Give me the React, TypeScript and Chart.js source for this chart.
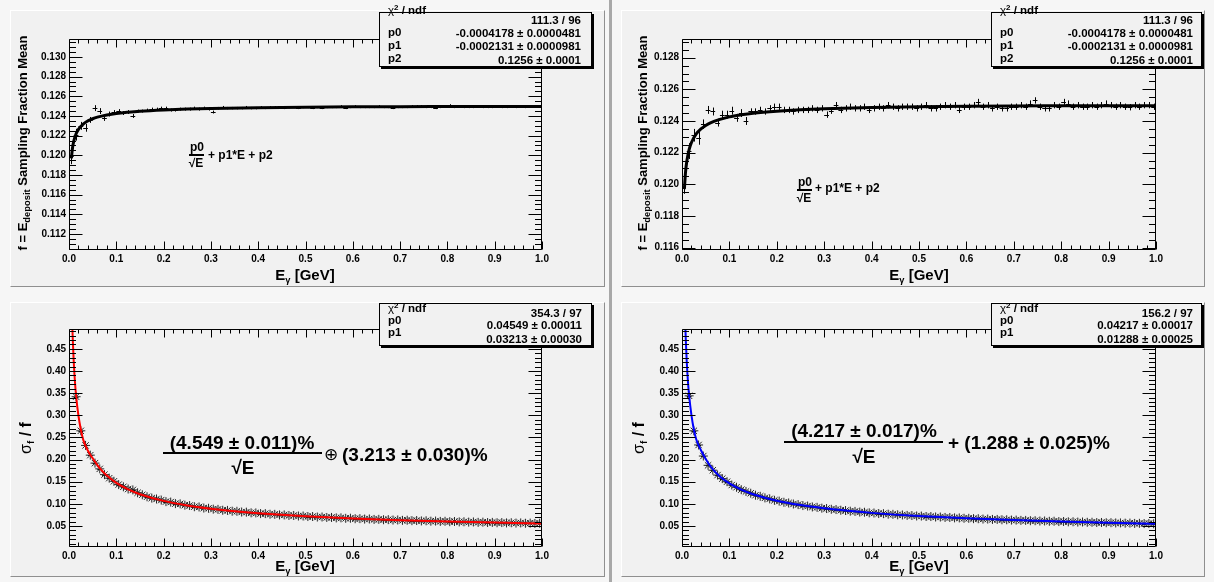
import React, { useEffect, useRef } from "react";
import { Chart, registerables } from "chart.js";

Chart.register(...registerables);

// ---------------- data ----------------
const X_TICKS = [0, 0.1, 0.2, 0.3, 0.4, 0.5, 0.6, 0.7, 0.8, 0.9, 1.0];
const Y_TICKS_TL = [0.112, 0.114, 0.116, 0.118, 0.12, 0.122, 0.124, 0.126, 0.128, 0.13];
const Y_TICKS_TR = [0.116, 0.118, 0.12, 0.122, 0.124, 0.126, 0.128];
const Y_TICKS_RES = [0.05, 0.1, 0.15, 0.2, 0.25, 0.3, 0.35, 0.4, 0.45];

const E_BINS = [
  0.005, 0.015, 0.025, 0.035, 0.045, 0.055, 0.065, 0.075, 0.085, 0.095,
  0.105, 0.115, 0.125, 0.135, 0.145, 0.155, 0.165, 0.175, 0.185, 0.195,
  0.205, 0.215, 0.225, 0.235, 0.245, 0.255, 0.265, 0.275, 0.285, 0.295,
  0.305, 0.315, 0.325, 0.335, 0.345, 0.355, 0.365, 0.375, 0.385, 0.395,
  0.405, 0.415, 0.425, 0.435, 0.445, 0.455, 0.465, 0.475, 0.485, 0.495,
  0.505, 0.515, 0.525, 0.535, 0.545, 0.555, 0.565, 0.575, 0.585, 0.595,
  0.605, 0.615, 0.625, 0.635, 0.645, 0.655, 0.665, 0.675, 0.685, 0.695,
  0.705, 0.715, 0.725, 0.735, 0.745, 0.755, 0.765, 0.775, 0.785, 0.795,
  0.805, 0.815, 0.825, 0.835, 0.845, 0.855, 0.865, 0.875, 0.885, 0.895,
  0.905, 0.915, 0.925, 0.935, 0.945, 0.955, 0.965, 0.975, 0.985, 0.995,
];
const E_RES_BINS = E_BINS.slice(1);

const TL_MEAN = [
  0.1199, 0.1221, 0.1230, 0.1228, 0.1236, 0.1248, 0.1245, 0.1238, 0.1242, 0.1244,
  0.1245, 0.1243, 0.1244, 0.1240, 0.1245, 0.1245, 0.1246, 0.1247, 0.1247, 0.1248,
  0.1248, 0.1246, 0.1246, 0.1247, 0.1247, 0.1247, 0.1248, 0.1247, 0.1248, 0.1247,
  0.1244, 0.1248, 0.1249, 0.1248, 0.1248, 0.1248, 0.1248, 0.1249, 0.1248, 0.1248,
  0.1249, 0.1248, 0.1249, 0.1249, 0.1249, 0.1248, 0.1249, 0.1249, 0.1248, 0.1249,
  0.1249, 0.1248, 0.1249, 0.1248, 0.1249, 0.1249, 0.1249, 0.1250, 0.1248, 0.1249,
  0.1250, 0.1249, 0.1249, 0.1249, 0.1249, 0.1250, 0.1249, 0.1249, 0.1248, 0.1249,
  0.1249, 0.1249, 0.1250, 0.1250, 0.1250, 0.1249, 0.1249, 0.1248, 0.1249, 0.1250,
  0.1251, 0.1249, 0.1250, 0.1249, 0.1249, 0.1249, 0.1250, 0.1249, 0.1249, 0.1249,
  0.1250, 0.1249, 0.1249, 0.1250, 0.1249, 0.1250, 0.1249, 0.1250, 0.1250, 0.1250,
];
const TL_ERR = [
  0.0008, 0.0006, 0.0004, 0.0004, 0.0003, 0.0003, 0.0003, 0.0003, 0.00025, 0.0002,
  0.0002, 0.0002, 0.0002, 0.0002, 0.00015, 0.00015, 0.00015, 0.00015, 0.00015, 0.00015,
  0.00015, 0.00015, 0.00015, 0.00015, 0.00015, 0.00015, 0.00015, 0.00015, 0.00015, 0.00015,
  0.00015, 0.00012, 0.00012, 0.00012, 0.00012, 0.00012, 0.00012, 0.00012, 0.00012, 0.00012,
  0.0001, 0.0001, 0.0001, 0.0001, 0.0001, 0.0001, 0.0001, 0.0001, 0.0001, 0.0001,
  0.0001, 0.0001, 0.0001, 0.0001, 0.0001, 0.0001, 0.0001, 0.0001, 0.0001, 0.0001,
  0.0001, 0.0001, 0.0001, 0.0001, 0.0001, 0.0001, 0.0001, 0.0001, 0.0001, 0.0001,
  0.0001, 0.0001, 0.0001, 0.0001, 0.0001, 0.0001, 0.0001, 0.0001, 0.0001, 0.0001,
  0.0001, 0.0001, 0.0001, 0.0001, 0.0001, 0.0001, 0.0001, 0.0001, 0.0001, 0.0001,
  0.0001, 0.0001, 0.0001, 0.0001, 0.0001, 0.0001, 0.0001, 0.0001, 0.0001, 0.0001,
];

const TR_MEAN = [
  0.1200, 0.1221, 0.1231, 0.1229, 0.1238, 0.1247, 0.1246, 0.1239, 0.1244, 0.1244,
  0.12465, 0.1242, 0.1245, 0.1240, 0.1246, 0.1246, 0.1247, 0.1246, 0.1248, 0.1249,
  0.1249, 0.1247, 0.1247, 0.1246, 0.1247, 0.1247, 0.1247, 0.1248, 0.1247, 0.1248,
  0.1244, 0.12465, 0.1250, 0.1247, 0.1248, 0.1249, 0.1248, 0.1248, 0.1249, 0.1247,
  0.1248, 0.1249, 0.1248, 0.1250, 0.1249, 0.1248, 0.1249, 0.1249, 0.1249, 0.1248,
  0.1249, 0.1250, 0.1248, 0.1248, 0.1249, 0.1250, 0.1249, 0.1250, 0.1247, 0.1249,
  0.1249, 0.1250, 0.1252, 0.1249, 0.1250, 0.1248, 0.1249, 0.1248, 0.1248, 0.1249,
  0.1249, 0.1250, 0.1249, 0.1251, 0.1253, 0.1249, 0.1248, 0.1248, 0.1250, 0.1249,
  0.1252, 0.1251, 0.1249, 0.1250, 0.1249, 0.1249, 0.1250, 0.1249, 0.1250, 0.1251,
  0.1250, 0.1249, 0.1250, 0.1249, 0.12487, 0.1250, 0.1249, 0.1250, 0.1250, 0.1249,
];
const TR_ERR = [
  0.0006, 0.0005, 0.0004, 0.0004, 0.0003, 0.00025, 0.00025, 0.00025, 0.00025, 0.00025,
  0.00025, 0.00025, 0.00025, 0.00025, 0.0002, 0.0002, 0.0002, 0.0002, 0.0002, 0.0002,
  0.0002, 0.0002, 0.0002, 0.0002, 0.0002, 0.0002, 0.0002, 0.0002, 0.0002, 0.0002,
  0.0002, 0.0002, 0.0002, 0.0002, 0.0002, 0.0002, 0.0002, 0.0002, 0.0002, 0.0002,
  0.0002, 0.0002, 0.0002, 0.0002, 0.0002, 0.0002, 0.0002, 0.0002, 0.0002, 0.0002,
  0.0002, 0.0002, 0.0002, 0.0002, 0.0002, 0.0002, 0.0002, 0.0002, 0.0002, 0.0002,
  0.0002, 0.0002, 0.0002, 0.0002, 0.0002, 0.0002, 0.0002, 0.0002, 0.0002, 0.0002,
  0.0002, 0.0002, 0.0002, 0.0002, 0.0002, 0.0002, 0.0002, 0.0002, 0.0002, 0.0002,
  0.0002, 0.0002, 0.0002, 0.0002, 0.0002, 0.0002, 0.0002, 0.0002, 0.0002, 0.0002,
  0.0002, 0.0002, 0.0002, 0.0002, 0.0002, 0.0002, 0.0002, 0.0002, 0.0002, 0.0002,
];

const BL_RES = [
  0.342, 0.265, 0.232, 0.210, 0.192, 0.179, 0.166, 0.158, 0.151,
  0.1435, 0.1385, 0.1335, 0.1315, 0.1250, 0.1205, 0.1160, 0.1130, 0.1110, 0.1085,
  0.1050, 0.1040, 0.1005, 0.1000, 0.0970, 0.0962, 0.0935, 0.0930, 0.0905, 0.0900,
  0.0880, 0.0875, 0.0855, 0.0852, 0.0834, 0.0832, 0.0815, 0.0812, 0.0797, 0.0795,
  0.0780, 0.0779, 0.0765, 0.0763, 0.0750, 0.0750, 0.0737, 0.0737, 0.0725, 0.0725,
  0.0713, 0.0714, 0.0702, 0.0703, 0.0692, 0.0693, 0.0682, 0.0684, 0.0673, 0.0675,
  0.0664, 0.0666, 0.0656, 0.0658, 0.0648, 0.0650, 0.0641, 0.0643, 0.0634, 0.0636,
  0.0627, 0.0630, 0.0620, 0.0623, 0.0614, 0.0617, 0.0608, 0.0611, 0.0603, 0.0606,
  0.0597, 0.0601, 0.0592, 0.0595, 0.0587, 0.0591, 0.0582, 0.0586, 0.0578, 0.0581,
  0.0573, 0.0577, 0.0569, 0.0573, 0.0565, 0.0569, 0.0561, 0.0565, 0.0557, 0.0561,
];
const BR_RES = [
  0.344, 0.265, 0.233, 0.208, 0.187, 0.176, 0.165, 0.157, 0.150,
  0.1425, 0.1375, 0.1320, 0.1280, 0.1240, 0.1195, 0.1170, 0.1135, 0.1112, 0.1080,
  0.1062, 0.1035, 0.1020, 0.0996, 0.0983, 0.0961, 0.0950, 0.0930, 0.0921, 0.0902,
  0.0894, 0.0877, 0.0871, 0.0855, 0.0849, 0.0834, 0.0829, 0.0815, 0.0810, 0.0797,
  0.0793, 0.0781, 0.0778, 0.0766, 0.0763, 0.0752, 0.0749, 0.0739, 0.0736, 0.0726,
  0.0724, 0.0714, 0.0713, 0.0703, 0.0702, 0.0693, 0.0692, 0.0683, 0.0682, 0.0674,
  0.0673, 0.0665, 0.0664, 0.0656, 0.0656, 0.0648, 0.0648, 0.0640, 0.0640, 0.0633,
  0.0633, 0.0626, 0.0626, 0.0619, 0.0619, 0.0612, 0.0613, 0.0606, 0.0607, 0.0600,
  0.0601, 0.0594, 0.0595, 0.0588, 0.0590, 0.0583, 0.0584, 0.0578, 0.0579, 0.0573,
  0.0574, 0.0568, 0.0569, 0.0563, 0.0565, 0.0558, 0.0560, 0.0554, 0.0556, 0.0550,
];
const RES_ERR = [
  0.006, 0.004, 0.003, 0.003, 0.0025, 0.002, 0.002, 0.002, 0.0015,
  0.0015, 0.0015, 0.0015, 0.0015, 0.0015, 0.0015, 0.0015, 0.0015, 0.0015, 0.0015,
  0.001, 0.001, 0.001, 0.001, 0.001, 0.001, 0.001, 0.001, 0.001, 0.001,
  0.001, 0.001, 0.001, 0.001, 0.001, 0.001, 0.001, 0.001, 0.001, 0.001,
  0.001, 0.001, 0.001, 0.001, 0.001, 0.001, 0.001, 0.001, 0.001, 0.001,
  0.001, 0.001, 0.001, 0.001, 0.001, 0.001, 0.001, 0.001, 0.001, 0.001,
  0.001, 0.001, 0.001, 0.001, 0.001, 0.001, 0.001, 0.001, 0.001, 0.001,
  0.001, 0.001, 0.001, 0.001, 0.001, 0.001, 0.001, 0.001, 0.001, 0.001,
  0.001, 0.001, 0.001, 0.001, 0.001, 0.001, 0.001, 0.001, 0.001, 0.001,
  0.001, 0.001, 0.001, 0.001, 0.001, 0.001, 0.001, 0.001, 0.001, 0.001,
];

// fit curves
const FIT_MEAN_E = [0.005, 0.0075, 0.01, 0.015, 0.02, 0.03, 0.04, 0.05, 0.06, 0.08, 0.1, 0.125, 0.15, 0.2, 0.25, 0.3, 0.4, 0.5, 0.6, 0.7, 0.8, 0.9, 1.0];
const FIT_MEAN_V = [0.11969, 0.12078, 0.12142, 0.12219, 0.12264, 0.12318, 0.1235, 0.12372, 0.12388, 0.1241, 0.12426, 0.12439, 0.12449, 0.12462, 0.12471, 0.12477, 0.12485, 0.1249, 0.12493, 0.12495, 0.12496, 0.12497, 0.12497];
const FIT_RES_E = [0.007, 0.008, 0.01, 0.0125, 0.015, 0.02, 0.025, 0.03, 0.04, 0.05, 0.06, 0.07, 0.08, 0.1, 0.125, 0.15, 0.2, 0.25, 0.3, 0.35, 0.4, 0.5, 0.6, 0.7, 0.8, 0.9, 1.0];
const FIT_BL_V = [0.503, 0.471, 0.421, 0.377, 0.344, 0.299, 0.268, 0.245, 0.22, 0.203, 0.1875, 0.1745, 0.164, 0.1474, 0.1326, 0.1218, 0.1067, 0.0965, 0.0891, 0.0833, 0.0788, 0.0719, 0.0669, 0.0632, 0.0602, 0.0577, 0.0557];
const FIT_BR_V = [0.503, 0.471, 0.421, 0.377, 0.345, 0.3, 0.268, 0.246, 0.221, 0.2015, 0.185, 0.1723, 0.162, 0.1462, 0.1322, 0.1218, 0.1072, 0.0972, 0.0899, 0.0842, 0.0796, 0.0725, 0.0673, 0.0633, 0.06, 0.0573, 0.0551];

const STATS_MEAN = [
  ["p0", "-0.0004178 ± 0.0000481"],
  ["p1", "-0.0002131 ± 0.0000981"],
  ["p2", "0.1256 ± 0.0001"],
];
const CHI_MEAN = "111.3 / 96";
const STATS_BL = [
  ["p0", "0.04549 ± 0.00011"],
  ["p1", "0.03213 ± 0.00030"],
];
const CHI_BL = "354.3 / 97";
const STATS_BR = [
  ["p0", "0.04217 ± 0.00017"],
  ["p1", "0.01288 ± 0.00025"],
];
const CHI_BR = "156.2 / 97";

// ---------------- rendering ----------------
const FONT = '"Liberation Sans", Arial, Helvetica, sans-serif';
const PAD_BG = "#f1f1f1";

type Pt = { x: number; y: number };
const zip = (xs: number[], ys: number[]): Pt[] => ys.map((y, i) => ({ x: xs[i], y }));

const rootFrame = {
  id: "rootFrame",
  afterDatasetsDraw(chart: any, _args: any, o: any) {
    const { ctx, chartArea: a } = chart;
    const xs = chart.scales.x;
    const ys = chart.scales.y;
    const L = Math.round(a.left) + 0.5;
    const R = Math.round(a.right) - 0.5;
    const T = Math.round(a.top) + 0.5;
    const B = Math.round(a.bottom) - 0.5;
    ctx.save();
    ctx.strokeStyle = "#000";
    ctx.lineWidth = 1;
    ctx.beginPath();
    ctx.rect(L, T, R - L, B - T);
    for (let k = 0; k <= 50; k++) {
      const px = Math.round(xs.getPixelForValue(k * 0.02)) + 0.5;
      const len = k % 5 === 0 ? 8 : 4;
      ctx.moveTo(px, B);
      ctx.lineTo(px, B - len);
      ctx.moveTo(px, T);
      ctx.lineTo(px, T + len);
    }
    const k0 = Math.ceil(ys.min / o.minor - 1e-6);
    const k1 = Math.floor(ys.max / o.minor + 1e-6);
    for (let k = k0; k <= k1; k++) {
      const py = Math.round(ys.getPixelForValue(k * o.minor)) + 0.5;
      const len = k % o.every === 0 ? 13 : 6.5;
      ctx.moveTo(L, py);
      ctx.lineTo(L + len, py);
      ctx.moveTo(R, py);
      ctx.lineTo(R - len, py);
    }
    ctx.stroke();
    ctx.restore();
  },
};

const errBars = {
  id: "errBars",
  beforeDatasetsDraw(chart: any, _args: any, o: any) {
    const ds = chart.data.datasets[o.index];
    const xs = chart.scales.x;
    const ys = chart.scales.y;
    const a = chart.chartArea;
    const ctx = chart.ctx;
    ctx.save();
    ctx.beginPath();
    ctx.rect(a.left, a.top, a.right - a.left, a.bottom - a.top);
    ctx.clip();
    ctx.strokeStyle = o.color;
    ctx.lineWidth = 1;
    ctx.beginPath();
    ds.data.forEach((p: Pt, i: number) => {
      const cx = Math.round(xs.getPixelForValue(p.x)) + 0.5;
      const cy = Math.round(ys.getPixelForValue(p.y)) + 0.5;
      const x0 = xs.getPixelForValue(p.x - o.halfBin);
      const x1 = xs.getPixelForValue(p.x + o.halfBin);
      const y0 = ys.getPixelForValue(p.y - o.err[i]);
      const y1 = ys.getPixelForValue(p.y + o.err[i]);
      ctx.moveTo(x0, cy);
      ctx.lineTo(x1, cy);
      ctx.moveTo(cx, y0);
      ctx.lineTo(cx, y1);
    });
    ctx.stroke();
    ctx.restore();
  },
};

interface Spec {
  pad: number[]; // left, top, width, height
  area: number[]; // left, top, right, bottom (page coordinates)
  yMin: number;
  yMax: number;
  yTicks: number[];
  yDec: number;
  yMinor: number;
  yEvery: number;
  points: Pt[];
  err: number[];
  star: boolean;
  fit: Pt[];
  fitColor: string;
  fitWidth: number;
}

const SPEC_TL: Spec = {
  pad: [10, 10, 595, 277], area: [69, 39, 542, 250],
  yMin: 0.11037, yMax: 0.13183, yTicks: Y_TICKS_TL, yDec: 3, yMinor: 0.0005, yEvery: 4,
  points: zip(E_BINS, TL_MEAN), err: TL_ERR, star: false,
  fit: zip(FIT_MEAN_E, FIT_MEAN_V), fitColor: "#000", fitWidth: 3,
};
const SPEC_TR: Spec = {
  pad: [621, 10, 584, 277], area: [682, 39, 1156, 250],
  yMin: 0.11585, yMax: 0.12918, yTicks: Y_TICKS_TR, yDec: 3, yMinor: 0.0005, yEvery: 4,
  points: zip(E_BINS, TR_MEAN), err: TR_ERR, star: false,
  fit: zip(FIT_MEAN_E, FIT_MEAN_V), fitColor: "#000", fitWidth: 3,
};
const SPEC_BL: Spec = {
  pad: [10, 302, 595, 275], area: [69, 329, 542, 547],
  yMin: 0.0025, yMax: 0.495, yTicks: Y_TICKS_RES, yDec: 2, yMinor: 0.01, yEvery: 5,
  points: zip(E_RES_BINS, BL_RES), err: RES_ERR, star: true,
  fit: zip(FIT_RES_E, FIT_BL_V), fitColor: "#ff0000", fitWidth: 2,
};
const SPEC_BR: Spec = {
  pad: [621, 302, 584, 275], area: [682, 329, 1156, 547],
  yMin: 0.0025, yMax: 0.495, yTicks: Y_TICKS_RES, yDec: 2, yMinor: 0.01, yEvery: 5,
  points: zip(E_RES_BINS, BR_RES), err: RES_ERR, star: true,
  fit: zip(FIT_RES_E, FIT_BR_V), fitColor: "#0000ff", fitWidth: 2,
};

function RootPlot({ spec }: { spec: Spec }) {
  const ref = useRef<HTMLCanvasElement>(null);
  const [pl, pt, pw, ph] = spec.pad;
  useEffect(() => {
    const [al, at, ar, ab] = spec.area;
    const tickFont = { family: FONT, size: 10, weight: "bold" as const };
    const chart = new Chart(ref.current as HTMLCanvasElement, {
      type: "scatter",
      data: {
        datasets: [
          {
            data: spec.fit,
            showLine: true,
            borderColor: spec.fitColor,
            borderWidth: spec.fitWidth,
            pointRadius: 0,
            cubicInterpolationMode: "monotone",
            order: 0,
            clip: 0,
          } as any,
          {
            data: spec.points,
            pointStyle: spec.star ? "star" : "circle",
            pointRadius: spec.star ? 4.5 : 0,
            borderColor: "#262626",
            backgroundColor: "rgba(0,0,0,0)",
            borderWidth: 1,
            order: 1,
            clip: 0,
          } as any,
        ],
      },
      options: {
        animation: false,
        responsive: false,
        devicePixelRatio: 1,
        events: [],
        layout: { padding: { left: 0, top: at - pt, right: pl + pw - ar, bottom: 0 } },
        plugins: {
          legend: { display: false },
          tooltip: { enabled: false },
          rootFrame: { minor: spec.yMinor, every: spec.yEvery },
          errBars: { index: 1, err: spec.err, halfBin: 0.005, color: "#000" },
        } as any,
        scales: {
          x: {
            type: "linear",
            min: 0,
            max: 1,
            afterFit: (s: any) => { s.height = pt + ph - ab; },
            afterBuildTicks: (s: any) => { s.ticks = X_TICKS.map((v) => ({ value: v })); },
            ticks: {
              font: tickFont, color: "#000", padding: 3, autoSkip: false, maxRotation: 0,
              callback: (v: any) => Number(v).toFixed(1),
            },
            grid: { display: false, drawTicks: false },
            border: { display: false },
          },
          y: {
            type: "linear",
            min: spec.yMin,
            max: spec.yMax,
            afterFit: (s: any) => { s.width = al - pl; },
            afterBuildTicks: (s: any) => { s.ticks = spec.yTicks.map((v) => ({ value: v })); },
            ticks: {
              font: tickFont, color: "#000", padding: 3, autoSkip: false,
              callback: (v: any) => Number(v).toFixed(spec.yDec),
            },
            grid: { display: false, drawTicks: false },
            border: { display: false },
          },
        },
      } as any,
      plugins: [errBars, rootFrame],
    });
    return () => chart.destroy();
  }, [spec]);
  return (
    <canvas
      ref={ref}
      width={pw}
      height={ph}
      style={{ position: "absolute", left: pl, top: pt, width: pw, height: ph, display: "block" }}
    />
  );
}

function Pad({ r }: { r: number[] }) {
  return (
    <div
      style={{
        position: "absolute", left: r[0], top: r[1], width: r[2], height: r[3], boxSizing: "border-box",
        background: PAD_BG, borderTop: "1px solid #ffffff", borderLeft: "1px solid #ffffff",
        borderRight: "1px solid #8f8f8f", borderBottom: "1px solid #8f8f8f",
      }}
    />
  );
}

function T({ x, y, size, bold = true, anchor = "c", rotate = false, children }: any) {
  const tr = anchor === "c" ? "translate(-50%,-50%)" : anchor === "l" ? "translate(0,-50%)" : "translate(-100%,-50%)";
  return (
    <div
      style={{
        position: "absolute", left: x, top: y, transform: tr + (rotate ? " rotate(-90deg)" : ""),
        fontFamily: FONT, fontSize: size, fontWeight: bold ? "bold" : "normal", lineHeight: 1,
        whiteSpace: "nowrap", color: "#000",
      }}
    >
      {children}
    </div>
  );
}

const Sub = ({ children, size = "0.62em", drop = "0.35em" }: any) => (
  <span style={{ fontSize: size, position: "relative", top: drop }}>{children}</span>
);
const Bar = ({ x, y, w }: any) => (
  <div style={{ position: "absolute", left: x, top: y, width: w, height: 2, background: "#000" }} />
);

function Stats({ box, labelX, valueR, chi, chiLY, chiVY, rows, rowLY, rowVY }: any) {
  const [l, t, w, h] = box;
  const fs = 11.5;
  return (
    <div
      style={{
        position: "absolute", left: l, top: t, width: w, height: h, boxSizing: "border-box",
        border: "1px solid #000", background: PAD_BG, boxShadow: "2px 2px 0 #000", overflow: "visible",
      }}
    >
      <T x={labelX} y={chiLY} size={fs} anchor="l">
        <span style={{ fontWeight: "normal" }}>χ</span>
        <span style={{ fontSize: 8, position: "relative", top: -4 }}>2</span> / ndf
      </T>
      <T x={w - valueR} y={chiVY} size={fs} anchor="r">{chi}</T>
      {rows.map((r: string[], i: number) => (
        <React.Fragment key={r[0]}>
          <T x={labelX} y={rowLY[i]} size={fs} anchor="l">{r[0]}</T>
          <T x={w - valueR} y={rowVY[i]} size={fs} anchor="r">{r[1]}</T>
        </React.Fragment>
      ))}
    </div>
  );
}

export default function App() {
  return (
    <div
      style={{
        position: "fixed", left: 0, top: 0, width: 1214, height: 582, background: "#f6f6f6",
        overflow: "hidden", fontFamily: FONT,
      }}
    >
      <div style={{ position: "absolute", left: 609, top: 0, width: 3, height: 582, background: "#a8a8a8" }} />
      <Pad r={SPEC_TL.pad} />
      <Pad r={SPEC_TR.pad} />
      <Pad r={SPEC_BL.pad} />
      <Pad r={SPEC_BR.pad} />
      <RootPlot spec={SPEC_TL} />
      <RootPlot spec={SPEC_TR} />
      <RootPlot spec={SPEC_BL} />
      <RootPlot spec={SPEC_BR} />

      {/* axis titles */}
      <T x={305} y={275} size={15}>E<Sub>γ</Sub> [GeV]</T>
      <T x={919} y={275} size={15}>E<Sub>γ</Sub> [GeV]</T>
      <T x={305} y={566} size={15}>E<Sub>γ</Sub> [GeV]</T>
      <T x={919} y={566} size={15}>E<Sub>γ</Sub> [GeV]</T>
      <T x={23} y={143} size={13} rotate>
        f = E<Sub size="0.72em">deposit</Sub> Sampling Fraction Mean
      </T>
      <T x={643} y={143} size={13} rotate>
        f = E<Sub size="0.72em">deposit</Sub> Sampling Fraction Mean
      </T>
      <T x={26} y={438} size={16} rotate>
        <span style={{ fontWeight: "normal" }}>σ</span>
        <Sub>f</Sub> / f
      </T>
      <T x={639} y={438} size={16} rotate>
        <span style={{ fontWeight: "normal" }}>σ</span>
        <Sub>f</Sub> / f
      </T>

      {/* fit formulas */}
      <T x={197} y={147} size={12}>p0</T>
      <Bar x={189} y={154} w={15} />
      <T x={196} y={163} size={12}>√E</T>
      <T x={208} y={155} size={12} anchor="l">+ p1*E + p2</T>

      <T x={805} y={182} size={12}>p0</T>
      <Bar x={797} y={189} w={15} />
      <T x={804} y={198} size={12}>√E</T>
      <T x={815} y={188} size={12} anchor="l">+ p1*E + p2</T>

      <T x={242} y={442} size={19}>(4.549 ± 0.011)%</T>
      <Bar x={163} y={452} w={159} />
      <T x={243} y={467} size={19}>√E</T>
      <T x={331} y={454} size={17} bold={false}>⊕</T>
      <T x={342} y={454} size={19} anchor="l">(3.213 ± 0.030)%</T>

      <T x={864} y={430} size={19}>(4.217 ± 0.017)%</T>
      <Bar x={784} y={441} w={159} />
      <T x={864} y={456} size={19}>√E</T>
      <T x={948} y={442} size={19} anchor="l">+ (1.288 ± 0.025)%</T>

      {/* stat boxes */}
      <Stats box={[379, 12, 213, 55]} labelX={8} valueR={12} chi={CHI_MEAN} chiLY={-2} chiVY={8}
        rows={STATS_MEAN} rowLY={[20, 33, 46]} rowVY={[21, 34, 47.5]} />
      <Stats box={[991, 12, 211, 55]} labelX={8} valueR={10} chi={CHI_MEAN} chiLY={-2} chiVY={8}
        rows={STATS_MEAN} rowLY={[20, 33, 46]} rowVY={[21, 34, 47.5]} />
      <Stats box={[379, 303, 213, 43]} labelX={8} valueR={11} chi={CHI_BL} chiLY={5} chiVY={9.5}
        rows={STATS_BL} rowLY={[16.5, 28.5]} rowVY={[22, 35.5]} />
      <Stats box={[991, 303, 211, 43]} labelX={8} valueR={10} chi={CHI_BR} chiLY={5} chiVY={9.5}
        rows={STATS_BR} rowLY={[16.5, 28.5]} rowVY={[22, 35.5]} />
    </div>
  );
}
